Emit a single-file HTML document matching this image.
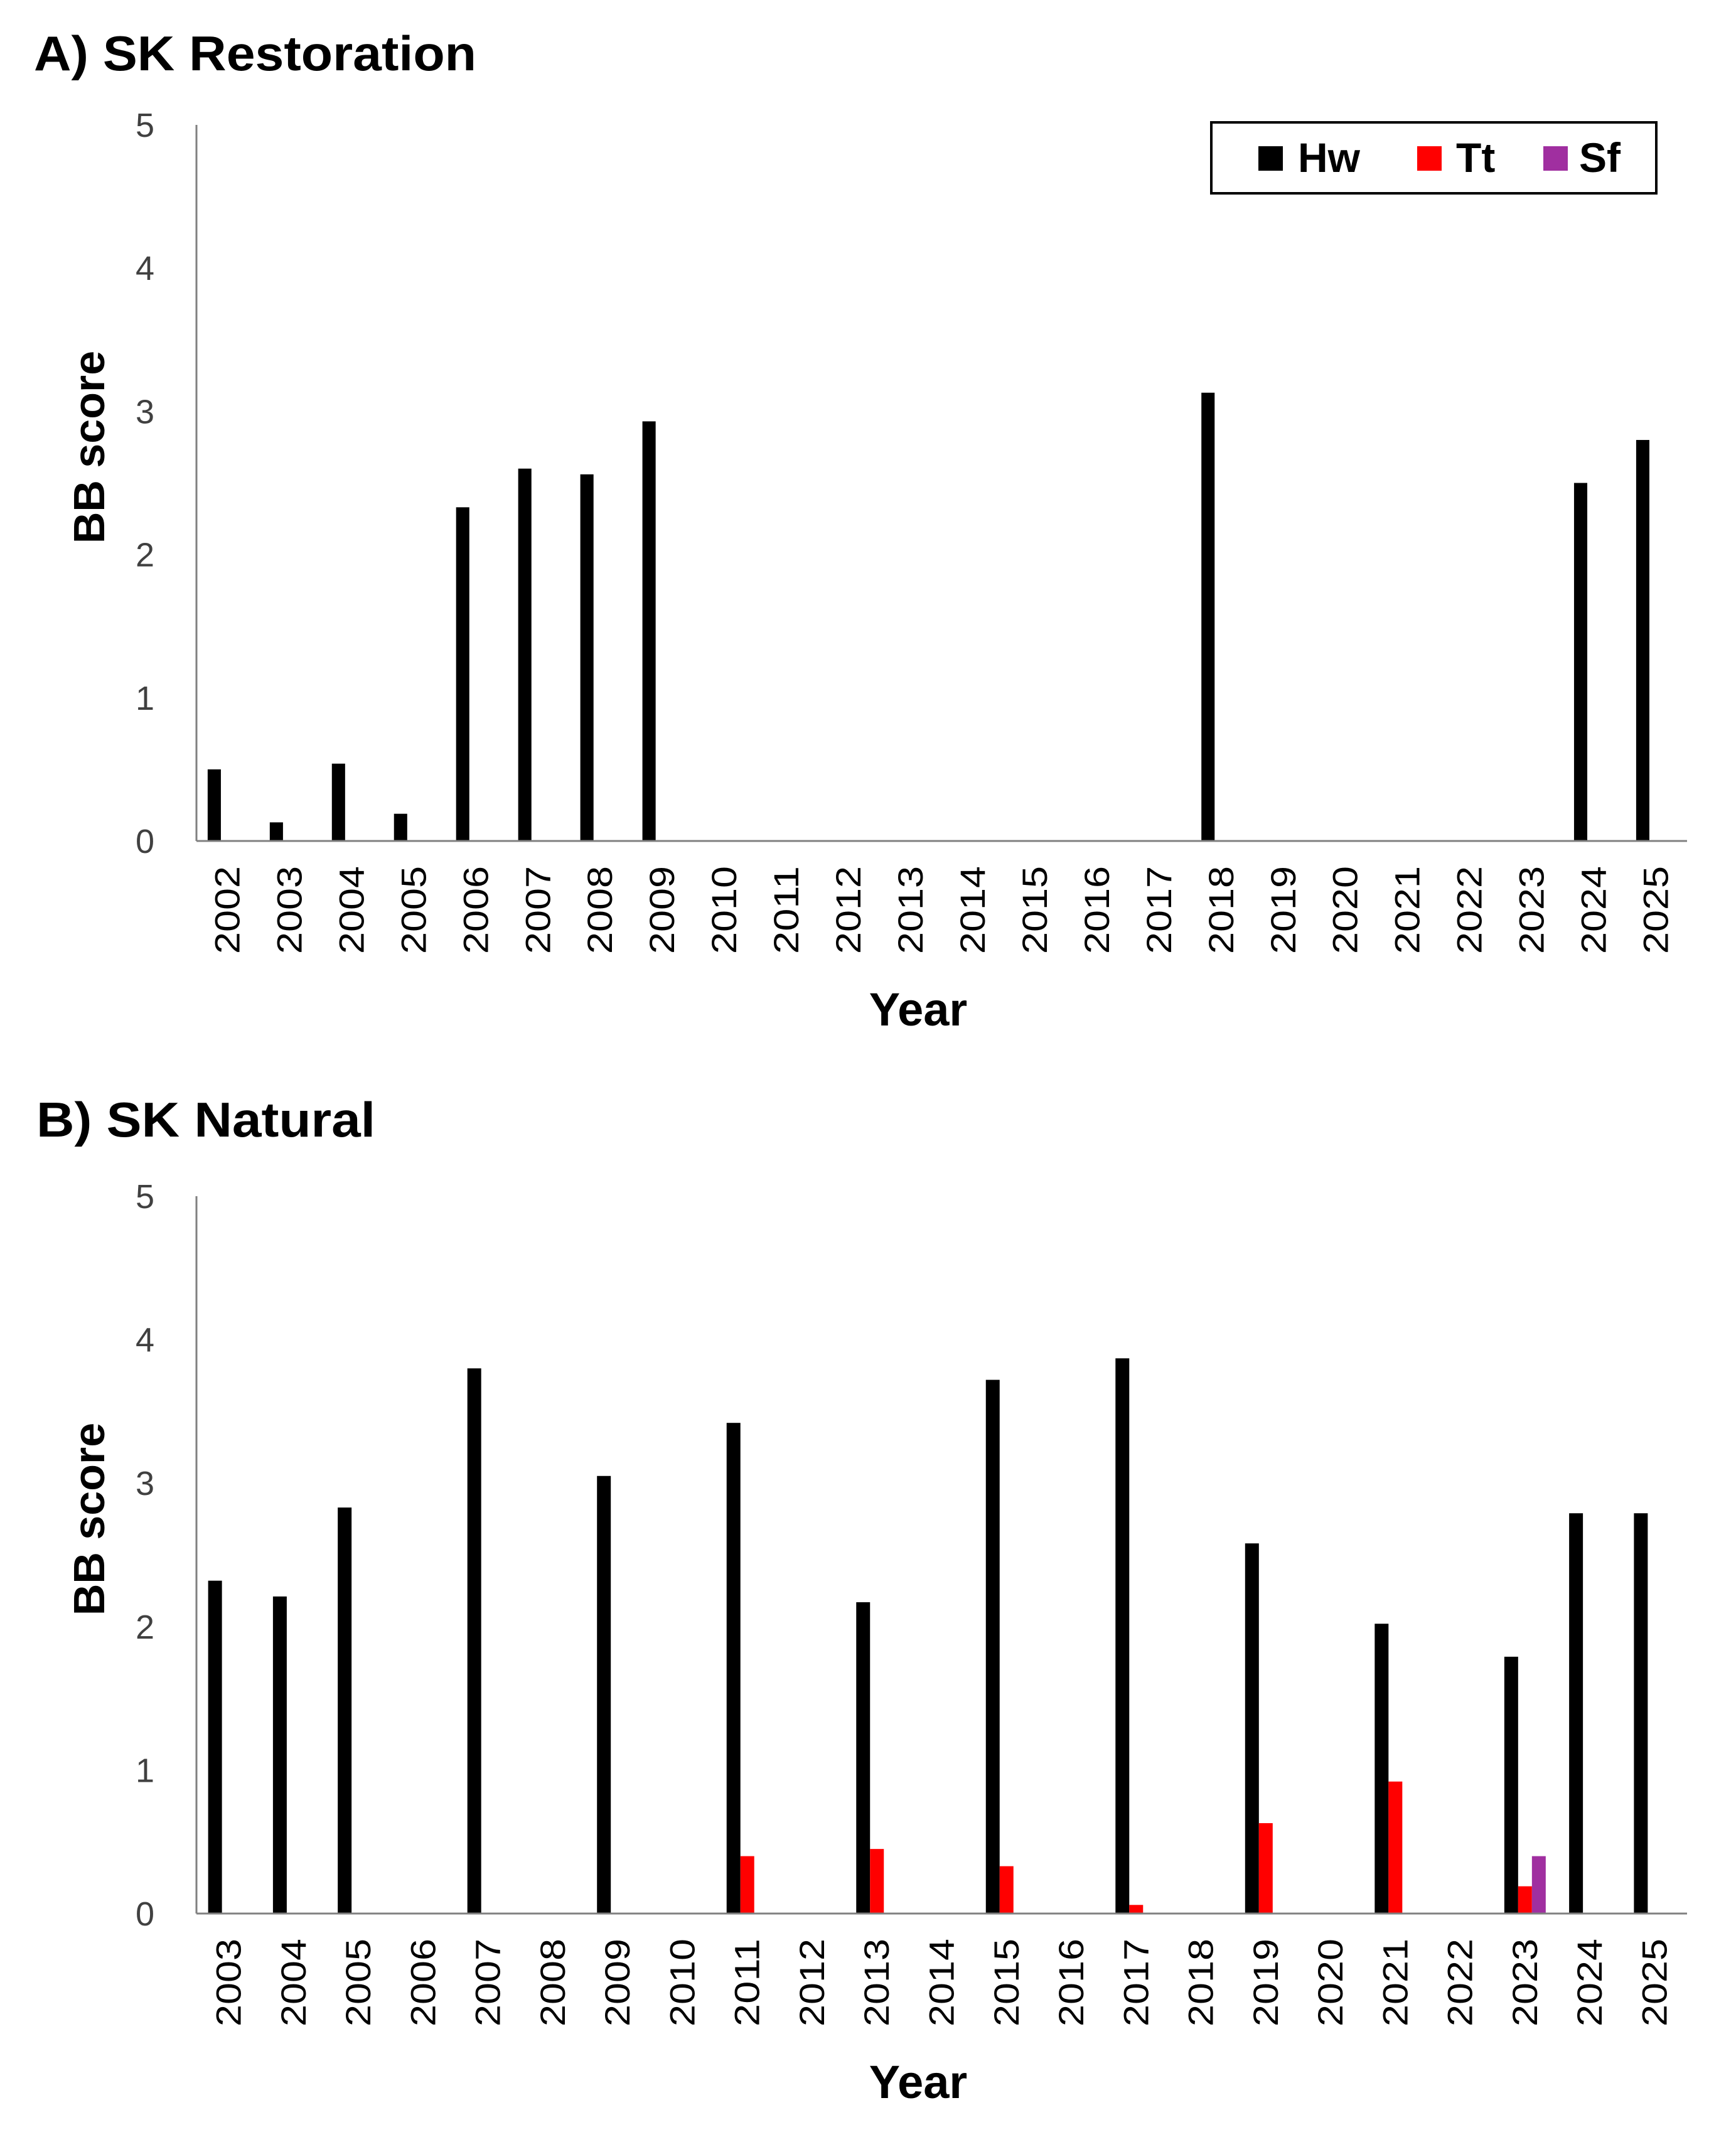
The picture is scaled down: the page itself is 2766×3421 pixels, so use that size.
<!DOCTYPE html>
<html><head><meta charset="utf-8"><style>
html,body{margin:0;padding:0;background:#fff}
svg{display:block}
text{font-family:"Liberation Sans",sans-serif}
</style></head><body>
<svg id="chart" width="2766" height="3421" viewBox="0 0 2766 3421" xmlns="http://www.w3.org/2000/svg">
<text x="54" y="112" font-size="78" font-weight="bold" textLength="705" lengthAdjust="spacingAndGlyphs">A) SK Restoration</text>
<text x="58" y="1811" font-size="78" font-weight="bold" textLength="540" lengthAdjust="spacingAndGlyphs">B) SK Natural</text>
<g id="panelA"></g>
<g id="panelB"></g>
<g>
<rect x="1930" y="195" width="709" height="113" fill="#fff" stroke="#000" stroke-width="4"/>
<g><rect x="2005" y="233" width="39" height="39" fill="#000"/><text x="2068" y="274" font-size="66" font-weight="bold">Hw</text></g>
<g><rect x="2258" y="233" width="39" height="39" fill="#ff0000"/><text x="2320" y="274" font-size="66" font-weight="bold">Tt</text></g>
<g><rect x="2459" y="233" width="39" height="39" fill="#a02fa0"/><text x="2516" y="274" font-size="66" font-weight="bold">Sf</text></g>
</g>
</svg>
<script>
const yearsA = [2002,2003,2004,2005,2006,2007,2008,2009,2010,2011,2012,2013,2014,2015,2016,2017,2018,2019,2020,2021,2022,2023,2024,2025];
const hwA = [0.5,0.13,0.54,0.19,2.33,2.6,2.56,2.93,0,0,0,0,0,0,0,0,3.13,0,0,0,0,0,2.5,2.8];
const ttA = [0,0,0,0,0,0,0,0,0,0,0,0,0,0,0,0,0,0,0,0,0,0,0,0];
const sfA = [0,0,0,0,0,0,0,0,0,0,0,0,0,0,0,0,0,0,0,0,0,0,0,0];
const yearsB = [2003,2004,2005,2006,2007,2008,2009,2010,2011,2012,2013,2014,2015,2016,2017,2018,2019,2020,2021,2022,2023,2024,2025];
const hwB = [2.32,2.21,2.83,0,3.8,0,3.05,0,3.42,0,2.17,0,3.72,0,3.87,0,2.58,0,2.02,0,1.79,2.79,2.79];
const ttB = [0,0,0,0,0,0,0,0,0.4,0,0.45,0,0.33,0,0.06,0,0.63,0,0.92,0,0.19,0,0];
const sfB = [0,0,0,0,0,0,0,0,0,0,0,0,0,0,0,0,0,0,0,0,0.4,0,0];
const yTicks = [0,1,2,3,4,5];
const NS = "http://www.w3.org/2000/svg";
function mk(parent, tag, attrs){const e=document.createElementNS(NS,tag);for(const k in attrs)e.setAttribute(k,attrs[k]);parent.appendChild(e);return e;}
function drawPanel(g, key, years, hw, tt, sf, y0, y5){
  const x0=313, x1=2688, yMax=5;
  const cw=(x1-x0)/years.length;
  const bw=cw*0.213;
  const yScale=v=>y0-(v/yMax)*(y0-y5);
  const xScale=i=>x0+i*cw;
  const ya=mk(g,'line',{x1:x0,y1:y5,x2:x0,y2:y0,stroke:'#808080','stroke-width':3});
  
  
  yTicks.forEach(t=>{
    const tx=mk(g,'text',{x:231,y:yScale(t)+19,'font-size':54,'text-anchor':'middle',fill:'#404040'});
    tx.textContent=t;
    
    
  });
  const series=[[hw,'#000000','hw'],[tt,'#ff0000','tt'],[sf,'#a02fa0','sf']];
  const off=(cw-3*bw)/2;
  years.forEach((yr,i)=>{
    series.forEach(([vals,col,nm],s)=>{
      const v=vals[i];
      if(v>0){
        const r=mk(g,'rect',{x:xScale(i)+off+s*bw,y:yScale(v),width:bw,height:y0-yScale(v),fill:col});
        
        
      }
    });
    const cx=xScale(i)+cw/2;
    const lb=mk(g,'text',{x:0,y:0,'font-size':56,'text-anchor':'end',fill:'#000',transform:`translate(${cx+19},${y0+40}) rotate(-90)`,textLength:140,lengthAdjust:'spacingAndGlyphs'});
    lb.textContent=yr;
    
    
  });
  const xa=mk(g,'line',{x1:x0,y1:y0,x2:x1,y2:y0,stroke:'#808080','stroke-width':3});
  
  
  const xt=mk(g,'text',{x:1463,y:y0+294,'font-size':74,'font-weight':'bold','text-anchor':'middle'});
  xt.textContent='Year';
  
  
  const yt=mk(g,'text',{x:0,y:0,'font-size':70,'font-weight':'bold','text-anchor':'middle',transform:`translate(166,${(y0+y5)/2-57}) rotate(-90)`});
  yt.textContent='BB score';
  
  
}
drawPanel(document.getElementById('panelA'),'panel-a',yearsA,hwA,ttA,sfA,1340,199);
drawPanel(document.getElementById('panelB'),'panel-b',yearsB,hwB,ttB,sfB,3049,1906);
</script>
</body></html>
